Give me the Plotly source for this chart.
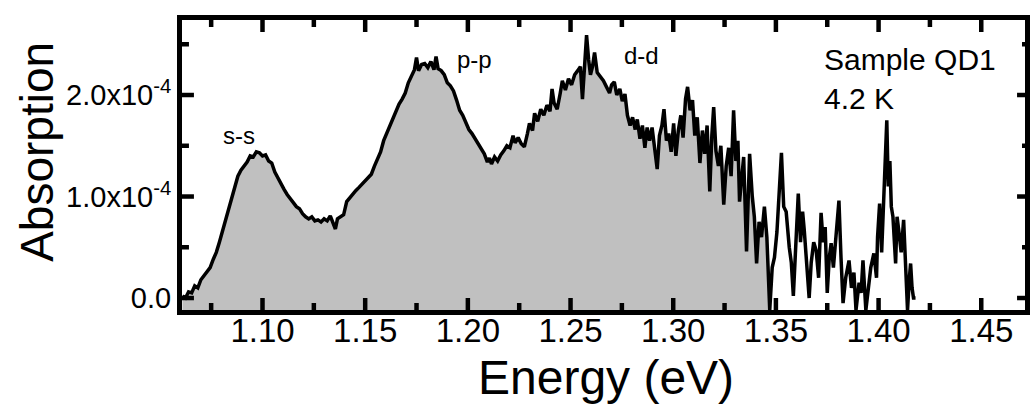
import plotly.graph_objects as go

# Energy (eV) and absorption (units of 1e-4)
energy = [
    1.0610, 1.0625, 1.0640, 1.0655, 1.0670, 1.0685, 1.0700, 1.0715, 1.0730, 1.0745,
    1.0760, 1.0775, 1.0790, 1.0805, 1.0820, 1.0835, 1.0850, 1.0865, 1.0880, 1.0895,
    1.0910, 1.0925, 1.0940, 1.0955, 1.0970, 1.0985, 1.1000, 1.1015, 1.1030, 1.1045,
    1.1060, 1.1075, 1.1090, 1.1105, 1.1120, 1.1135, 1.1150, 1.1165, 1.1180, 1.1195,
    1.1210, 1.1225, 1.1240, 1.1255, 1.1270, 1.1285, 1.1300, 1.1315, 1.1330, 1.1345,
    1.1355, 1.1365, 1.1380, 1.1395, 1.1410, 1.1425, 1.1440, 1.1455, 1.1470, 1.1485,
    1.1500, 1.1515, 1.1530, 1.1545, 1.1560, 1.1575, 1.1590, 1.1605, 1.1620, 1.1635,
    1.1650, 1.1665, 1.1680, 1.1695, 1.1710, 1.1725, 1.1740, 1.1750, 1.1760, 1.1775,
    1.1790, 1.1805, 1.1820, 1.1835, 1.1845, 1.1855, 1.1870, 1.1885, 1.1900, 1.1915,
    1.1930, 1.1945, 1.1960, 1.1975, 1.1990, 1.2005, 1.2020, 1.2035, 1.2050, 1.2065,
    1.2080, 1.2095, 1.2105, 1.2115, 1.2130, 1.2145, 1.2160, 1.2175, 1.2190, 1.2205,
    1.2220, 1.2230, 1.2245, 1.2260, 1.2275, 1.2290, 1.2300, 1.2315, 1.2325, 1.2340,
    1.2355, 1.2370, 1.2385, 1.2400, 1.2410, 1.2420, 1.2435, 1.2450, 1.2460, 1.2475,
    1.2490, 1.2505, 1.2520, 1.2535, 1.2548, 1.2558, 1.2568, 1.2578, 1.2588, 1.2597,
    1.2607, 1.2617, 1.2630, 1.2645, 1.2660, 1.2675, 1.2690, 1.2700, 1.2713, 1.2725,
    1.2740, 1.2752, 1.2765, 1.2777, 1.2790, 1.2802, 1.2815, 1.2825, 1.2838, 1.2850,
    1.2862, 1.2873, 1.2885, 1.2897, 1.2910, 1.2922, 1.2933, 1.2945, 1.2955, 1.2967,
    1.2978, 1.2990, 1.3002, 1.3013, 1.3025, 1.3037, 1.3048, 1.3060, 1.3070, 1.3082,
    1.3094, 1.3105, 1.3117, 1.3130, 1.3142, 1.3153, 1.3165, 1.3178, 1.3188, 1.3197,
    1.3208, 1.3220, 1.3232, 1.3246, 1.3258, 1.3270, 1.3282, 1.3294, 1.3305, 1.3315,
    1.3323, 1.3333, 1.3343, 1.3357, 1.3372, 1.3385, 1.3395, 1.3406, 1.3418, 1.3430,
    1.3444, 1.3456, 1.3470,
    1.3482, 1.3493, 1.3505, 1.3515, 1.3527, 1.3538, 1.3550, 1.3565, 1.3575, 1.3585,
    1.3597, 1.3609, 1.3620, 1.3630, 1.3638, 1.3650, 1.3662, 1.3672, 1.3684, 1.3696,
    1.3708, 1.3720, 1.3730, 1.3740, 1.3750, 1.3760, 1.3769, 1.3780, 1.3792, 1.3807,
    1.3817, 1.3827, 1.3840, 1.3856, 1.3868, 1.3880, 1.3890, 1.3905, 1.3915, 1.3924,
    1.3938, 1.3950, 1.3962, 1.3977, 1.3990, 1.3995, 1.4005, 1.4015, 1.4025, 1.4033,
    1.4040, 1.4047, 1.4055, 1.4062, 1.4070, 1.4083, 1.4090, 1.4098, 1.4110, 1.4122,
    1.4132, 1.4141, 1.4150, 1.4156, 1.4163, 1.4170, 1.4180,
]
absorption = [
    0.02, 0.00, 0.06, 0.05, 0.12, 0.10, 0.18, 0.22, 0.27, 0.30,
    0.38, 0.45, 0.55, 0.66, 0.78, 0.89, 0.99, 1.08, 1.20, 1.26,
    1.30, 1.34, 1.40, 1.39, 1.44, 1.43, 1.40, 1.41, 1.35, 1.33,
    1.24, 1.18, 1.12, 1.07, 1.02, 0.98, 0.95, 0.90, 0.88, 0.83,
    0.80, 0.78, 0.80, 0.76, 0.77, 0.75, 0.78, 0.76, 0.81, 0.73,
    0.68, 0.78, 0.80, 0.82, 0.95, 0.99, 1.02, 1.06, 1.09, 1.12,
    1.15, 1.18, 1.22, 1.30, 1.37, 1.44, 1.55, 1.62, 1.71, 1.78,
    1.85, 1.91, 1.96, 2.02, 2.12, 2.18, 2.25, 2.37, 2.24, 2.30,
    2.31, 2.27, 2.33, 2.25, 2.38, 2.26, 2.24, 2.20, 2.12, 2.09,
    2.04, 1.95, 1.85, 1.80, 1.73, 1.66, 1.62, 1.57, 1.53, 1.47,
    1.42, 1.34, 1.38, 1.32, 1.39, 1.35, 1.41, 1.45, 1.50, 1.48,
    1.60, 1.53, 1.58, 1.52, 1.49, 1.62, 1.72, 1.65, 1.82, 1.74,
    1.86, 1.80, 1.90, 1.84, 2.06, 1.92, 1.86, 2.02, 2.14, 2.05,
    2.16, 2.10, 2.20, 2.24, 2.28, 1.96, 2.30, 2.59, 2.35, 2.20,
    2.28, 2.42, 2.22, 2.18, 2.14, 2.08, 2.02, 2.10, 2.13, 2.00,
    2.06, 1.94, 2.01, 1.80, 1.70, 1.78, 1.66, 1.76, 1.57, 1.70,
    1.48, 1.68, 1.55, 1.68, 1.45, 1.27, 1.60, 1.70, 1.86, 1.55,
    1.62, 1.44, 1.72, 1.40, 1.65, 1.80, 1.58, 1.96, 2.08, 1.85,
    1.95, 1.60, 1.78, 1.33, 1.65, 1.42, 1.70, 1.05, 1.60, 1.88,
    1.45, 1.30, 1.50, 0.92, 1.30, 1.48, 1.20, 1.85, 1.35, 1.55,
    0.95, 1.20, 1.39, 0.46, 1.42, 1.00, 0.80, 0.34, 0.75, 0.60,
    0.90, 0.60, -0.12,
    0.30, 0.40, 0.65, 0.95, 1.43, 0.90, 0.85, 0.50, 0.35, 0.02,
    0.60, 1.03, 0.55, 0.85, 0.67, 0.30, 0.00, 0.35, 0.55, 0.47,
    0.20, 0.84, 0.55, 0.70, 0.05, 0.40, 0.54, 0.30, 0.60, 0.96,
    0.40, -0.05, 0.20, 0.37, 0.10, 0.25, -0.12, 0.15, 0.05, 0.37,
    -0.12, 0.10, 0.30, 0.44, 0.20, 0.60, 0.93, 0.45, 0.95, 1.25,
    1.75, 1.10, 1.35, 0.90, 0.80, 0.34, 0.80, 0.67, 0.45, 0.77,
    0.30, -0.12, 0.20, 0.34, 0.10, 0.00, 0.00,
]
fill_count = 213  # the grey fill covers the first part of the spectrum (up to 1.347 eV)

x_range = [1.0608, 1.4713]
y_range = [-0.118, 2.739]
x_tick_vals = [1.10, 1.15, 1.20, 1.25, 1.30, 1.35, 1.40, 1.45]
x_tick_text = ["1.10", "1.15", "1.20", "1.25", "1.30", "1.35", "1.40", "1.45"]
x_minor_vals = [1.075, 1.125, 1.175, 1.225, 1.275, 1.325, 1.375, 1.425]
y_tick_vals = [0.0, 1.0, 2.0]
y_tick_text = ["0.0", "1.0x10<sup>-4</sup>", "2.0x10<sup>-4</sup>"]
y_minor_vals = [0.5, 1.5, 2.5]

FONT = "Liberation Sans, Arial, Helvetica, sans-serif"

W, H = 1030, 406
ML, MR, MT, MB = 182, 0, 20, 96
pw, ph = W - ML - MR, H - MT - MB
xspan = x_range[1] - x_range[0]
yspan = y_range[1] - y_range[0]

fe = energy[:fill_count]
fa = absorption[:fill_count]
base = y_range[0] - 0.5
poly_x = fe + [fe[-1], fe[0]]
poly_y = fa + [base, base]

fig = go.Figure()
fig.add_trace(go.Scatter(x=poly_x, y=poly_y, fill="toself", fillcolor="#c0c0c0",
                         mode="lines", line=dict(width=0, color="#c0c0c0"),
                         hoverinfo="skip", showlegend=False))
fig.add_trace(go.Scatter(x=energy, y=absorption, mode="lines",
                         line=dict(color="black", width=3.5), showlegend=False))

# inward tick marks at the axis tick values (lengths converted from pixels)
tx, ty = [], []
for vals, n in ((x_tick_vals, 12), (x_minor_vals, 7)):
    d = n / ph * yspan
    for v in vals:
        tx += [v, v, None, v, v, None]
        ty += [y_range[0], y_range[0] + d, None, y_range[1], y_range[1] - d, None]
for vals, nl, nr in ((y_tick_vals, 12, 8), (y_minor_vals, 7, 3)):
    dl = nl / pw * xspan
    dr = nr / pw * xspan
    for v in vals:
        tx += [x_range[0], x_range[0] + dl, None, x_range[1], x_range[1] - dr, None]
        ty += [v, v, None, v, v, None]
fig.add_trace(go.Scatter(x=tx, y=ty, mode="lines", line=dict(color="black", width=4.5),
                         hoverinfo="skip", showlegend=False, connectgaps=False))

frame = dict(showline=True, linewidth=5, linecolor="black", mirror=True,
             ticks="", showgrid=False, zeroline=False)

fig.update_layout(
    xaxis=dict(range=x_range, tickmode="array", tickvals=x_tick_vals, ticktext=x_tick_text,
               tickfont=dict(family=FONT, size=33, color="black"),
               ticklabelstandoff=-13, **frame),
    yaxis=dict(range=y_range, tickmode="array", tickvals=y_tick_vals, ticktext=y_tick_text,
               tickfont=dict(family=FONT, size=29, color="black"), **frame),
)

def px(xp):
    return (xp - ML) / pw

def py(yp):
    return (H - MB - yp) / ph

annotations = [
    dict(text="Absorption", x=px(36), y=py(152), textangle=-90, font=dict(size=46)),
    dict(text="Energy (eV)", x=px(609), y=py(377), font=dict(size=48)),
    dict(text="s-s", x=1.0884, y=1.60, xref="x", yref="y", font=dict(size=24)),
    dict(text="p-p", x=1.2033, y=2.35, xref="x", yref="y", font=dict(size=24)),
    dict(text="d-d", x=1.2847, y=2.39, xref="x", yref="y", font=dict(size=24)),
    dict(text="Sample QD1<br>4.2 K", x=px(826), y=py(79), xanchor="left", align="left",
         font=dict(size=30)),
]
for a in annotations:
    a.setdefault("xref", "paper")
    a.setdefault("yref", "paper")
    a.setdefault("xanchor", "center")
    a.setdefault("yanchor", "middle")
    a["showarrow"] = False
    a["font"] = dict(family=FONT, color="black", **a["font"])

fig.update_layout(width=W, height=H, margin=dict(l=ML, r=MR, t=MT, b=MB, pad=0),
                  paper_bgcolor="white", plot_bgcolor="white",
                  annotations=annotations, showlegend=False)

fig.write_html("out.html")
